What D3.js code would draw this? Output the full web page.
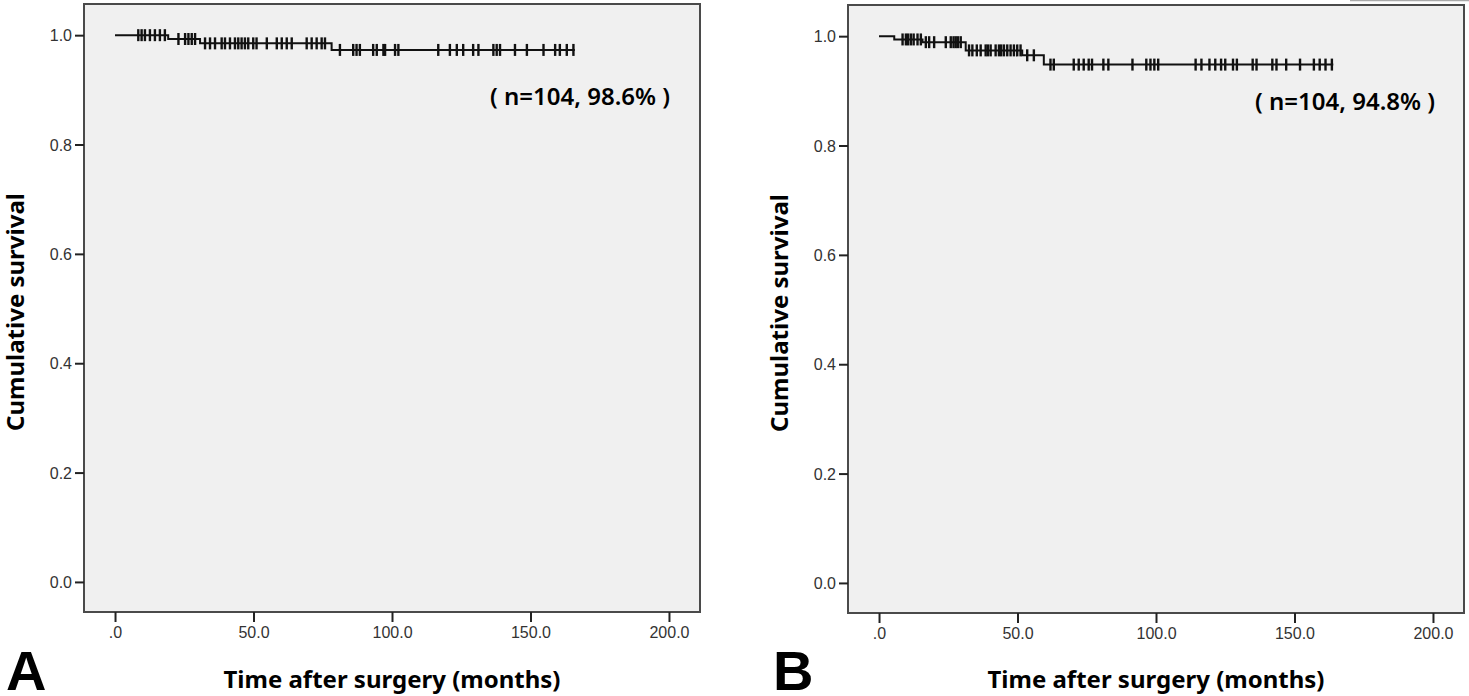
<!DOCTYPE html>
<html>
<head>
<meta charset="utf-8">
<script src="https://cdn.jsdelivr.net/npm/d3@7"></script>
<style>
  html, body { margin: 0; padding: 0; background: #fff; }
  svg { display: block; }
  .tick-label { font-family: "Liberation Sans", Arial, sans-serif; font-size: 16px; fill: #333; }
  .axis-title { font-family: "Noto Sans", "Open Sans", sans-serif; font-size: 24px; font-weight: bold; fill: #000; }
  .note { font-family: "Noto Sans", "Open Sans", sans-serif; font-size: 24px; font-weight: 600; fill: #000; }
  .panel-letter { font-family: "Liberation Sans", Arial, sans-serif; font-size: 56px; font-weight: bold; fill: #000; }
</style>
</head>
<body>
<svg id="chart" width="1469" height="696"></svg>
<script>
// axis ticks
const timeTicks = [0, 50, 100, 150, 200];
const timeTickLabels = [".0", "50.0", "100.0", "150.0", "200.0"];
const survTicks = [0, 0.2, 0.4, 0.6, 0.8, 1.0];
const survTickLabels = ["0.0", "0.2", "0.4", "0.6", "0.8", "1.0"];

// panel A : step times / survival after each step
const stepTimesA = [0, 19.2, 30.7, 78.2];
const stepSurvA = [1.0, 0.993, 0.985, 0.973];
const endTimeA = 166;
const censoredA = [
  8.4, 9.6, 10.8, 12.6, 14.4, 16.2, 18.0, 22.9, 25.3, 26.5, 27.7, 28.9,
  32.5, 34.3, 36.1, 38.5, 39.7, 41.5, 43.3, 44.5, 45.7, 46.9, 48.1, 49.9,
  51.1, 54.8, 58.4, 60.2, 62.0, 63.8, 69.2, 71.0, 72.8, 74.6, 75.8,
  81.2, 86.0, 87.2, 88.4, 93.2, 94.5, 96.9, 97.5, 101.1, 102.3,
  116.7, 120.9, 123.4, 125.7, 129.3, 131.2, 136.6, 137.8, 139.0, 144.4,
  148.7, 154.7, 158.9, 160.6, 163.1, 165.5
];

// panel B
const stepTimesB = [0, 5.5, 15.7, 31.3, 51.7, 59.5];
const stepSurvB = [1.0, 0.994, 0.989, 0.974, 0.965, 0.948];
const endTimeB = 164;
const censoredB = [
  8.5, 9.7, 10.5, 11.5, 12.5, 13.9, 15.1, 16.9, 18.1, 19.9, 24.1, 25.9,
  26.9, 27.7, 28.5, 29.5, 32.5, 33.7, 35.3, 36.7, 38.5, 39.3, 40.3, 42.1,
  43.3, 44.1, 45.1, 46.3, 47.5, 48.7, 49.9, 51.1, 53.5, 55.9, 61.9, 63.1,
  70.3, 72.1, 73.9, 75.7, 76.9, 81.0, 82.8, 91.5, 96.5, 98.0, 99.4, 100.8,
  114.3, 116.4, 119.3, 121.4, 123.5, 125.0, 127.8, 129.2, 134.9, 136.3,
  142.0, 143.5, 147.0, 152.0, 157.0, 159.1, 161.2, 163.5
];

const svg = d3.select("#chart");

// little grey rule left over at the top right of the figure
svg.append("line")
  .attr("x1", 1350).attr("x2", 1469)
  .attr("y1", 0.5).attr("y2", 0.5)
  .attr("stroke", "#aaa").attr("stroke-width", 1.5);

function drawPanel(p) {
  const g = svg.append("g");

  const x = d3.scaleLinear().domain([-11.2, 211.2]).range([p.left, p.left + 616]);
  const y = d3.scaleLinear().domain([-0.055, 1.057]).range([p.top + 608, p.top]);

  g.append("rect")
    .attr("x", p.left).attr("y", p.top)
    .attr("width", 616).attr("height", 608)
    .attr("fill", "#f0f0f0")
    .attr("stroke", "#4a4a4a")
    .attr("stroke-width", 2);

  // y axis ticks
  const yAxis = d3.axisLeft(y).tickValues(survTicks)
    .tickFormat((d, i) => survTickLabels[i])
    .tickSize(9).tickPadding(3);
  const ya = g.append("g").attr("transform", `translate(${p.left},0)`).call(yAxis);
  ya.select(".domain").remove();
  ya.selectAll(".tick line").attr("stroke", "#222").attr("stroke-width", 2);
  ya.selectAll(".tick text").attr("class", "tick-label").attr("dy", "0.35em");

  // x axis ticks
  const xAxis = d3.axisBottom(x).tickValues(timeTicks)
    .tickFormat((d, i) => timeTickLabels[i])
    .tickSize(10).tickPadding(5);
  const xa = g.append("g").attr("transform", `translate(0,${p.top + 608})`).call(xAxis);
  xa.select(".domain").remove();
  xa.selectAll(".tick line").attr("stroke", "#222").attr("stroke-width", 2);
  xa.selectAll(".tick text").attr("class", "tick-label");

  // survival step curve
  const pts = p.times.map((t, i) => [t, p.surv[i]]);
  pts.push([p.end, p.surv[p.surv.length - 1]]);
  const line = d3.line().x(d => x(d[0])).y(d => y(d[1])).curve(d3.curveStepAfter);
  g.append("path")
    .attr("d", line(pts))
    .attr("fill", "none")
    .attr("stroke", "#111")
    .attr("stroke-width", 2);

  // censoring marks
  const survAt = t => p.surv[d3.bisectRight(p.times, t) - 1];
  g.selectAll("line.cens")
    .data(p.censored)
    .enter()
    .append("line")
    .attr("class", "cens")
    .attr("x1", d => x(d)).attr("x2", d => x(d))
    .attr("y1", d => y(survAt(d)) - 6)
    .attr("y2", d => y(survAt(d)) + 6)
    .attr("stroke", "#111")
    .attr("stroke-width", 2.4);

  g.append("text")
    .attr("class", "note")
    .attr("x", p.noteX).attr("y", p.noteY)
    .text(p.note);

  g.append("text")
    .attr("class", "axis-title")
    .attr("transform", `translate(${p.left - 60},${p.top + 308}) rotate(-90)`)
    .attr("text-anchor", "middle")
    .text("Cumulative survival");

  g.append("text")
    .attr("class", "axis-title")
    .attr("x", x(100)).attr("y", 688)
    .attr("text-anchor", "middle")
    .text("Time after surgery (months)");

  g.append("text")
    .attr("class", "panel-letter")
    .attr("x", p.letterX).attr("y", 690)
    .text(p.letter);
}

drawPanel({
  left: 84, top: 4,
  times: stepTimesA, surv: stepSurvA, end: endTimeA, censored: censoredA,
  note: "( n=104, 98.6% )", noteX: 490, noteY: 105,
  letter: "A", letterX: 6
});

drawPanel({
  left: 848, top: 5,
  times: stepTimesB, surv: stepSurvB, end: endTimeB, censored: censoredB,
  note: "( n=104, 94.8% )", noteX: 1255, noteY: 110,
  letter: "B", letterX: 773
});
</script>
</body>
</html>
